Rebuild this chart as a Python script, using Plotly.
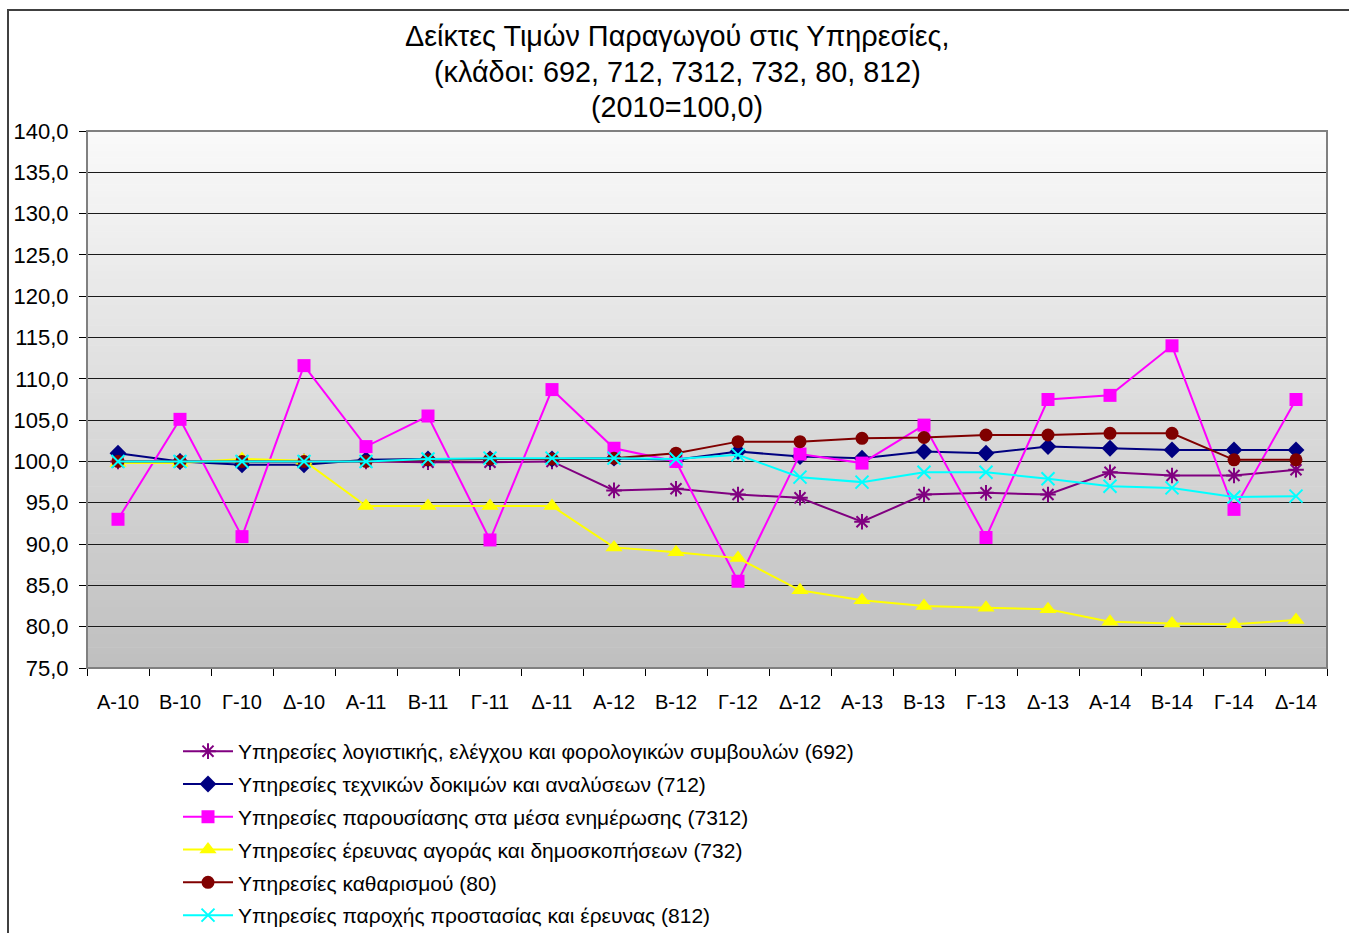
import plotly.graph_objects as go

categories = ["Α-10", "Β-10", "Γ-10", "Δ-10", "Α-11", "Β-11", "Γ-11", "Δ-11",
              "Α-12", "Β-12", "Γ-12", "Δ-12", "Α-13", "Β-13", "Γ-13", "Δ-13",
              "Α-14", "Β-14", "Γ-14", "Δ-14"]

s692 = [100.0, 100.0, 100.0, 100.0, 100.0, 99.9, 99.9, 100.0, 96.5, 96.7,
        96.0, 95.6, 92.7, 96.0, 96.2, 96.0, 98.7, 98.3, 98.3, 99.0]
s712 = [101.0, 100.0, 99.6, 99.6, 100.2, 100.3, 100.3, 100.3, 100.4, 100.2,
        101.2, 100.6, 100.4, 101.2, 101.0, 101.8, 101.6, 101.4, 101.4, 101.4]
s7312 = [93.0, 105.1, 90.9, 111.6, 101.8, 105.5, 90.5, 108.7, 101.6, 100.0,
         85.5, 100.9, 99.8, 104.4, 90.8, 107.5, 108.0, 114.0, 94.2, 107.5]
s732 = [99.8, 99.8, 100.3, 100.1, 94.6, 94.6, 94.6, 94.6, 89.6, 89.0,
        88.3, 84.4, 83.2, 82.5, 82.3, 82.1, 80.6, 80.4, 80.3, 80.8]
s80 = [100.0, 100.0, 100.0, 100.0, 100.0, 100.2, 100.3, 100.3, 100.4, 101.0,
       102.4, 102.4, 102.8, 102.9, 103.2, 103.2, 103.4, 103.4, 100.2, 100.2]
s812 = [100.0, 100.0, 100.0, 100.0, 100.0, 100.3, 100.4, 100.4, 100.4, 100.3,
        100.8, 98.1, 97.5, 98.7, 98.7, 97.9, 97.0, 96.8, 95.7, 95.8]

names = [
    "Υπηρεσίες λογιστικής, ελέγχου και φορολογικών συμβουλών (692)",
    "Υπηρεσίες τεχνικών δοκιμών και αναλύσεων (712)",
    "Υπηρεσίες παρουσίασης στα μέσα ενημέρωσης (7312)",
    "Υπηρεσίες έρευνας αγοράς και δημοσκοπήσεων (732)",
    "Υπηρεσίες καθαρισμού (80)",
    "Υπηρεσίες παροχής προστασίας και έρευνας (812)",
]
series = [s692, s712, s7312, s732, s80, s812]
colors = ["#800080", "#000080", "#FF00FF", "#FFFF00", "#800000", "#00FFFF"]
symbols = ["asterisk-open", "diamond", "square", "triangle-up", "circle", "x-thin-open"]
msizes = [13, 13, 13, 15, 13, 13]

title_lines = ["Δείκτες Τιμών Παραγωγού στις Υπηρεσίες,",
               "(κλάδοι: 692, 712, 7312, 732, 80, 812)",
               "(2010=100,0)"]
yticks = [75, 80, 85, 90, 95, 100, 105, 110, 115, 120, 125, 130, 135, 140]

FONT = "Arial, Liberation Sans, sans-serif"

W, H = 1349, 933
L, R, T, B = 87, 22, 131, 265
pw, ph = W - L - R, H - T - B


def px_x(px):
    return (px - L) / pw


def px_y(py):
    return (H - B - py) / ph


fig = go.Figure()
for i, (nm, vals) in enumerate(zip(names, series)):
    fig.add_trace(go.Scatter(
        x=categories, y=vals, name=nm, mode="lines+markers",
        legendgroup="g%d" % i,
        line=dict(color=colors[i], width=2),
        marker=dict(symbol=symbols[i], size=msizes[i], color=colors[i],
                    line=dict(color=colors[i], width=2 if symbols[i].endswith("open") else 0)),
    ))

# plot-area gradient background
shapes = []
n = 80
top = (250, 250, 250)
bot = (191, 191, 191)
for k in range(n):
    t = (k + 0.5) / n
    c = tuple(int(round(top[j] + (bot[j] - top[j]) * t)) for j in range(3))
    shapes.append(dict(type="rect", xref="paper", yref="paper",
                       x0=0, x1=1, y0=1 - (k + 1) / n, y1=1 - k / n + 0.001,
                       fillcolor="rgb(%d,%d,%d)" % c, line=dict(width=0),
                       layer="below"))
# plot border (top/right gray)
shapes.append(dict(type="rect", xref="paper", yref="paper", x0=0, x1=1, y0=0, y1=1,
                   line=dict(color="#808080", width=2), fillcolor="rgba(0,0,0,0)",
                   layer="above"))
# chart outer frame
shapes.append(dict(type="rect", xref="paper", yref="paper",
                   x0=px_x(8), x1=px_x(W + 50), y0=px_y(H + 50), y1=px_y(10),
                   line=dict(color="#404040", width=2), fillcolor="rgba(0,0,0,0)",
                   layer="above"))

title_y = [36, 72, 107]
annotations = [dict(text=t, xref="paper", yref="paper", x=px_x(677), y=px_y(yy),
                    xanchor="center", yanchor="middle", showarrow=False,
                    font=dict(size=28.8, family=FONT, color="black"))
               for t, yy in zip(title_lines, title_y)]

fig.update_layout(
    width=W, height=H,
    margin=dict(l=L, r=R, t=T, b=B, autoexpand=False),
    paper_bgcolor="white",
    plot_bgcolor="rgba(0,0,0,0)",
    separators=",.",
    font=dict(family=FONT, color="black"),
    showlegend=True,
    legend=dict(x=px_x(178), xanchor="left", y=px_y(731), yanchor="top",
                font=dict(size=21, family=FONT, color="black"),
                tracegroupgap=2.5, itemwidth=50, bgcolor="rgba(0,0,0,0)"),
    shapes=shapes,
    annotations=annotations,
)
fig.update_xaxes(type="category", range=[-0.5, 19.5], tickson="boundaries",
                 ticks="outside", ticklen=7, tickcolor="black",
                 showline=True, linecolor="black", linewidth=1,
                 showgrid=False, ticklabelstandoff=16, automargin=False,
                 tickfont=dict(size=20, family=FONT, color="black"))
fig.update_yaxes(range=[75, 140], tickvals=yticks, tickformat=".1f",
                 ticks="outside", ticklen=7, tickcolor="black",
                 showline=True, linecolor="black", linewidth=1,
                 showgrid=True, gridcolor="#1a1a1a", gridwidth=1,
                 zeroline=False, ticklabelstandoff=6, automargin=False,
                 tickfont=dict(size=22, family=FONT, color="black"))

fig.write_html("out.html", config={"displayModeBar": False},
               post_script="document.body.style.margin='0';document.body.style.overflow='hidden';")
